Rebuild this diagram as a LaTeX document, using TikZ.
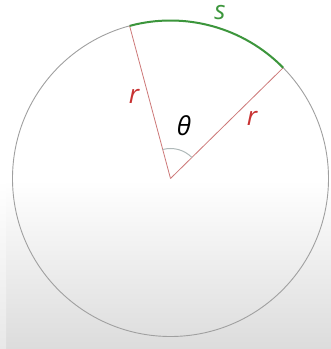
\documentclass[tikz,border=0pt]{standalone}
\usepackage{fontspec}
\usetikzlibrary{calc}
\newfontfamily\lblfont{Open Sans}
\definecolor{circgray}{RGB}{160,160,160}
\definecolor{radred}{RGB}{205,120,120}
\definecolor{lblred}{RGB}{200,50,50}
\definecolor{arcgreen}{RGB}{60,150,60}
\definecolor{anggray}{RGB}{175,185,185}
\definecolor{bglow}{RGB}{220,220,220}
\definecolor{bgstrip}{RGB}{232,232,232}
\begin{document}
\begin{tikzpicture}[x=1pt,y=1pt,
  radius line/.style={draw=radred,line width=0.8pt},
  lbl/.style={font=\lblfont\itshape\fontsize{26}{26}\selectfont,inner sep=0pt}]
\useasboundingbox (0,0) rectangle (331,349);
\fill[white] (0,0) rectangle (331,349);
\shade[top color=white,bottom color=bglow] (0,0) rectangle (331,169);
\shade[top color=white,bottom color=bgstrip] (0,0) rectangle (6,169);
\coordinate (O) at (170.5,170.5);
\draw[circgray,line width=0.9pt] (O) circle[radius=158];
\coordinate (A) at ($(O)+(105:158)$);
\coordinate (B) at ($(O)+(44.5:158)$);
\draw[radius line] (O) -- (A);
\draw[radius line] (O) -- (B);
\draw[arcgreen,line width=2pt] (B) arc[start angle=44.5,end angle=105,radius=158];
\draw[anggray,line width=1pt] ($(O)+(44.5:30)$) arc[start angle=44.5,end angle=105,radius=30];
\node[lbl,text=lblred] (r1) at (134,253) {r};
\node[lbl,text=lblred] (r2) at (252,231) {r};
\node[lbl,text=black] (th) at (184,223) {θ};
\node[lbl,text=arcgreen] (s) at (220,336) {s};
\end{tikzpicture}
\end{document}
